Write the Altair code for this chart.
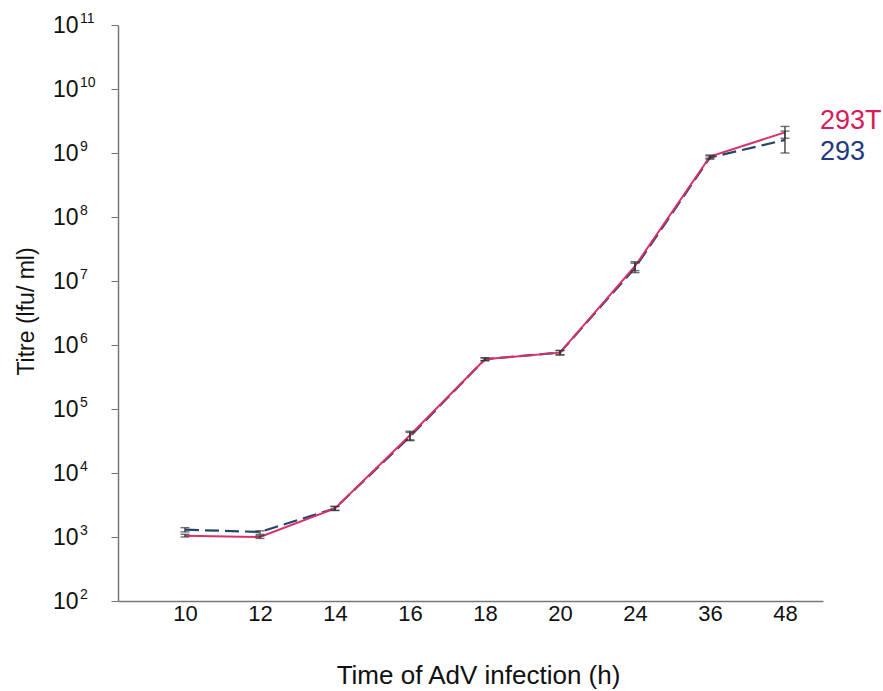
import json
import altair as alt
import pandas as pd

# ---- data ----
hours = ["10", "12", "14", "16", "18", "20", "24", "36", "48"]
titre_293T = [1.05e3, 1.0e3, 2.8e3, 3.9e4, 6.0e5, 7.6e5, 1.7e7, 8.8e8, 2.1e9]
titre_293 = [1.3e3, 1.2e3, 2.8e3, 3.7e4, 6.0e5, 7.6e5, 1.6e7, 8.5e8, 1.6e9]
err_lo_293T = [1.0e3, 0.95e3, 2.6e3, 3.3e4, 5.7e5, 7.0e5, 1.45e7, 8.3e8, 1.7e9]
err_hi_293T = [1.1e3, 1.05e3, 3.0e3, 4.5e4, 6.3e5, 8.2e5, 2.0e7, 9.3e8, 2.6e9]
err_lo_293 = [1.2e3, 1.1e3, 2.6e3, 3.2e4, 5.7e5, 7.0e5, 1.35e7, 8.0e8, 1.0e9]
err_hi_293 = [1.4e3, 1.25e3, 3.0e3, 4.3e4, 6.3e5, 8.2e5, 1.9e7, 9.0e8, 2.2e9]
y_exponents = ["2", "3", "4", "5", "6", "7", "8", "9", "10", "11"]

COL_T = "#d8306a"
COL_T_LABEL = "#d81b5a"
COL_N = "#22456e"
COL_N_LABEL = "#1f3a7e"
FONT = "Liberation Sans"

rows = []
for i, h in enumerate(hours):
    rows.append({"idx": i, "hour": h, "series": "293", "titre": titre_293[i],
                 "lo": err_lo_293[i], "hi": err_hi_293[i]})
    rows.append({"idx": i, "hour": h, "series": "293T", "titre": titre_293T[i],
                 "lo": err_lo_293T[i], "hi": err_hi_293T[i]})
df = pd.DataFrame(rows)

caps = pd.concat([
    df[["idx", "series", "lo"]].rename(columns={"lo": "v"}),
    df[["idx", "series", "hi"]].rename(columns={"hi": "v"}),
])

exp_df = pd.DataFrame({"exp": y_exponents,
                       "val": [10.0 ** int(e) for e in y_exponents]})

label_expr = json.dumps(hours) + "[datum.value]"

x_scale = alt.Scale(domain=[-0.893, 8.507], nice=False, zero=False)
y_scale = alt.Scale(type="log", domain=[1e2, 1e11], nice=False)

x_enc = alt.X("idx:Q", scale=x_scale, axis=alt.Axis(
    values=list(range(len(hours))), labelExpr=label_expr, ticks=False,
    grid=False, domainColor="#777777", domainWidth=1.5,
    labelFont=FONT, labelFontSize=22, labelColor="#111111", labelPadding=2,
    title="Time of AdV infection (h)", titleFont=FONT, titleFontSize=26,
    titleFontWeight="normal", titleColor="#111111",
    titleX=360, titleY=82, titleBaseline="alphabetic", titleAlign="center",
))

y_enc = alt.Y("titre:Q", scale=y_scale, axis=alt.Axis(
    values=[10.0 ** int(e) for e in y_exponents], labelExpr="'10'",
    grid=False, tickSize=7, tickColor="#777777", domainColor="#777777",
    domainWidth=1.5, labelFont=FONT, labelFontSize=23, labelColor="#111111",
    labelPadding=33, labelBaseline="middle",
    title="Titre (lfu/ ml)", titleFont=FONT, titleFontSize=23,
    titleFontWeight="normal", titleColor="#111111", titleAngle=-90,
    titleX=-85, titleY=286, titleBaseline="alphabetic", titleAlign="center",
))

base = alt.Chart(df)

line_293 = base.transform_filter(alt.datum.series == "293").mark_line(
    color=COL_N, strokeWidth=2.2, strokeDash=[14, 6]
).encode(x=x_enc, y=y_enc)

line_293T = base.transform_filter(alt.datum.series == "293T").mark_line(
    color=COL_T, strokeWidth=2
).encode(x="idx:Q", y="titre:Q")

err_rules = base.mark_rule(color="#333333", strokeWidth=1.3).encode(
    x="idx:Q", y="lo:Q", y2="hi:Q")

err_caps = alt.Chart(caps).mark_tick(
    orient="horizontal", size=9, thickness=1.4, color="#333333"
).encode(x="idx:Q", y=alt.Y("v:Q"))

last_T = base.transform_filter(
    (alt.datum.series == "293T") & (alt.datum.idx == len(hours) - 1))
last_N = base.transform_filter(
    (alt.datum.series == "293") & (alt.datum.idx == len(hours) - 1))

lab_T = last_T.mark_text(align="left", baseline="middle", dx=35, dy=-11,
                         font=FONT, fontSize=27, color=COL_T_LABEL).encode(
    x="idx:Q", y="titre:Q", text="series:N")
lab_N = last_N.mark_text(align="left", baseline="middle", dx=35, dy=12,
                         font=FONT, fontSize=27, color=COL_N_LABEL).encode(
    x="idx:Q", y="titre:Q", text="series:N")

exps = alt.Chart(exp_df).mark_text(align="left", baseline="middle", dy=-6,
                                   font=FONT, fontSize=14, color="#111111").encode(
    x=alt.value(-38), y=alt.Y("val:Q"), text="exp:N")

chart = alt.layer(line_293, line_293T, err_rules, err_caps, lab_T, lab_N, exps).properties(
    width=705, height=576,
    autosize=alt.AutoSizeParams(type="none"),
    padding={"left": 118, "top": 25, "right": 60, "bottom": 90},
    background="white",
).configure_view(stroke=None)

chart.save("out.html", embed_options={"renderer": "svg", "actions": False})
